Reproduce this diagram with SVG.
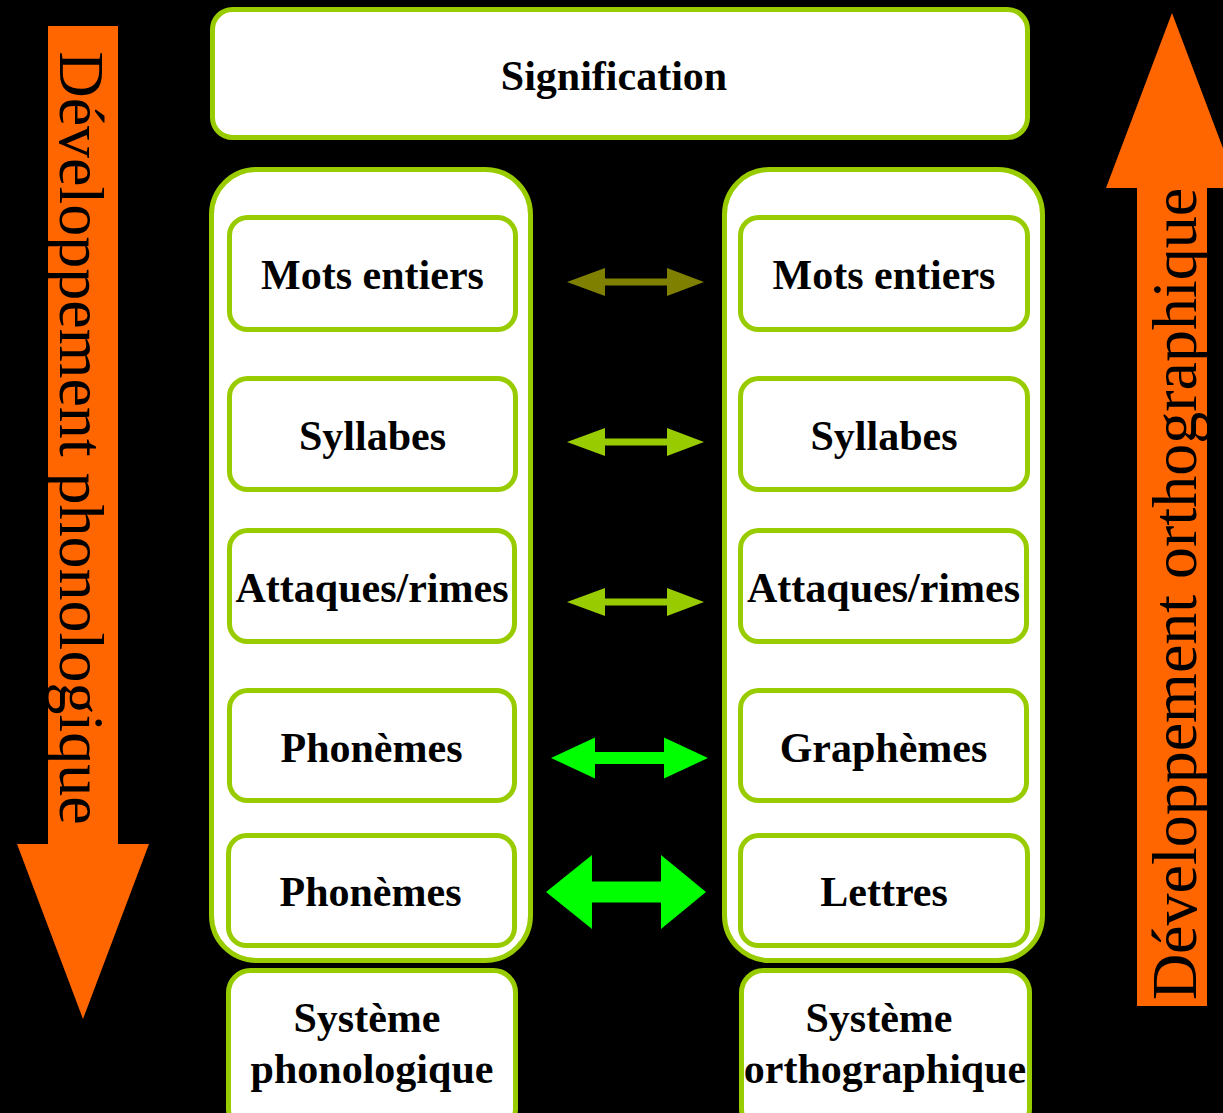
<svg xmlns="http://www.w3.org/2000/svg" width="1223" height="1113" viewBox="0 0 1223 1113">
  <style>
    .box { fill: #ffffff; stroke: #99cc00; stroke-width: 5; }
    .lbl { font-family: "Liberation Serif", "Times New Roman", serif; font-weight: bold; font-size: 42px; fill: #000000; text-anchor: middle; }
    .side { font-family: "Liberation Serif", "Times New Roman", serif; font-size: 64px; fill: #000000; text-anchor: middle; }
    .dev { fill: #ff6600; }
  </style>
  <rect x="0" y="0" width="1223" height="1113" fill="#000000"/>

  <!-- development arrows -->
  <g id="dev-phono">
    <polygon class="dev" points="48,26 118,26 118,844 149,844 83,1019 17,844 48,844"/>
    <text class="side" transform="translate(60,438) rotate(90)">Développement phonologique</text>
  </g>
  <g id="dev-ortho">
    <polygon class="dev" points="1172,13 1238,188 1207,188 1207,1006 1137,1006 1137,188 1106,188"/>
    <text class="side" transform="translate(1196,594) rotate(-90)">Développement orthographique</text>
  </g>

  <!-- top node -->
  <g id="signification">
    <rect class="box" x="212.5" y="9.5" width="815" height="128" rx="20"/>
    <text class="lbl" x="614" y="90">Signification</text>
  </g>

  <!-- column frames -->
  <g id="col-phono">
    <rect class="box" x="211.5" y="169.5" width="319" height="791" rx="45"/>
  </g>
  <g id="col-ortho">
    <rect class="box" x="724.5" y="169.5" width="318" height="791" rx="45"/>
  </g>

  <!-- phonological units -->
  <g id="p-mots">
    <rect class="box" x="229.5" y="217.5" width="286" height="112" rx="18"/>
    <text class="lbl" x="372.5" y="289">Mots entiers</text>
  </g>
  <g id="p-syll">
    <rect class="box" x="229.5" y="378.5" width="286" height="111" rx="18"/>
    <text class="lbl" x="372.5" y="450">Syllabes</text>
  </g>
  <g id="p-att">
    <rect class="box" x="229.5" y="530.5" width="285" height="111" rx="18"/>
    <text class="lbl" x="372" y="602">Attaques/rimes</text>
  </g>
  <g id="p-phon1">
    <rect class="box" x="229.5" y="690.5" width="285" height="110" rx="18"/>
    <text class="lbl" x="371.5" y="762">Phonèmes</text>
  </g>
  <g id="p-phon2">
    <rect class="box" x="228.5" y="835.5" width="286" height="110" rx="18"/>
    <text class="lbl" x="370.5" y="906">Phonèmes</text>
  </g>

  <!-- orthographic units -->
  <g id="o-mots">
    <rect class="box" x="740.5" y="217.5" width="287" height="112" rx="18"/>
    <text class="lbl" x="884" y="289">Mots entiers</text>
  </g>
  <g id="o-syll">
    <rect class="box" x="740.5" y="378.5" width="287" height="111" rx="18"/>
    <text class="lbl" x="884" y="450">Syllabes</text>
  </g>
  <g id="o-att">
    <rect class="box" x="740.5" y="530.5" width="286" height="111" rx="18"/>
    <text class="lbl" x="883.5" y="602">Attaques/rimes</text>
  </g>
  <g id="o-graph">
    <rect class="box" x="740.5" y="690.5" width="286" height="110" rx="18"/>
    <text class="lbl" x="883.5" y="762">Graphèmes</text>
  </g>
  <g id="o-lettres">
    <rect class="box" x="740.5" y="835.5" width="287" height="110" rx="18"/>
    <text class="lbl" x="884" y="906">Lettres</text>
  </g>

  <!-- system labels -->
  <g id="sys-phono">
    <rect class="box" x="228.5" y="970.5" width="287" height="160" rx="22"/>
    <text class="lbl" x="367" y="1032">Système</text>
    <text class="lbl" x="372" y="1083">phonologique</text>
  </g>
  <g id="sys-ortho">
    <rect class="box" x="741.5" y="970.5" width="288" height="160" rx="22"/>
    <text class="lbl" x="879" y="1032">Système</text>
    <text class="lbl" x="885" y="1083">orthographique</text>
  </g>

  <!-- correspondences between levels -->
  <g id="connectors">
    <polygon fill="#808000" points="567,282 605,268 605,278.5 667,278.5 667,268 704,282 667,296 667,285.5 605,285.5 605,296"/>
    <polygon fill="#99cc00" points="567,442 605,428 605,438.5 667,438.5 667,428 704,442 667,456 667,445.5 605,445.5 605,456"/>
    <polygon fill="#99cc00" points="567,602 605,588 605,598.5 667,598.5 667,588 704,602 667,616 667,605.5 605,605.5 605,616"/>
    <polygon fill="#00ff00" points="551,758 595,737.5 595,752 664,752 664,737.5 708,758 664,778.5 664,764 595,764 595,778.5"/>
    <polygon fill="#00ff00" points="546,892 592,855 592,881.5 661,881.5 661,855 706,892 661,929 661,902.5 592,902.5 592,929"/>
  </g>
</svg>
